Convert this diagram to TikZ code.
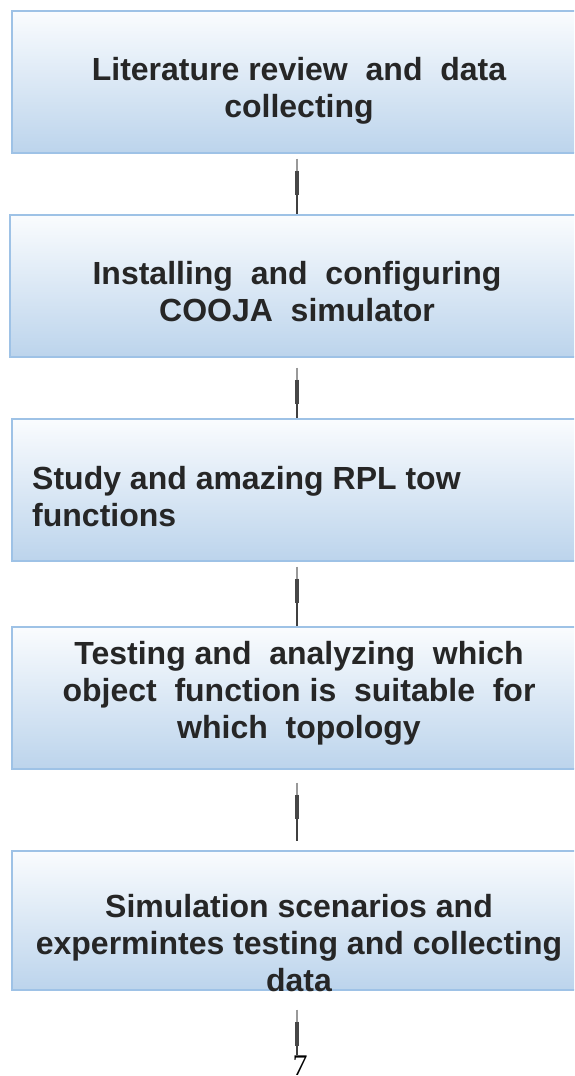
\documentclass[tikz,border=0pt]{standalone}
\usepackage{fontspec}
\setmainfont{Liberation Sans}
\newfontfamily\numfont{Liberation Serif}
\usetikzlibrary{calc}

\definecolor{boxtop}{RGB}{250,252,254}
\definecolor{boxbottom}{RGB}{188,212,236}
\definecolor{boxline}{RGB}{158,194,230}
\definecolor{txt}{RGB}{38,38,38}

\begin{document}
\begin{tikzpicture}[
    x=1pt, y=-1pt,
    stepbox/.style={
      draw=boxline,
      line width=1.5pt,
      top color=boxtop,
      bottom color=boxbottom,
      shape=rectangle,
      anchor=north west,
      minimum width=600pt,
      minimum height=142pt,
      inner sep=0pt,
    },
    steptext/.style={
      text=txt,
      font=\bfseries\fontsize{32}{37}\selectfont,
      align=center,
      inner sep=0pt,
    },
    linkup/.style={line width=1.2pt, black!40},
    linklow/.style={line width=1.2pt, black!75},
    linkbar/.style={line width=3.5pt, black!72},
  ]
  \useasboundingbox (0,0) rectangle (574,1076);
  \clip (0,0) rectangle (574,1076);

  % boxes
  \node[stepbox] (b1) at (11,10) {};
  \node[stepbox] (b2) at (9,214) {};
  \node[stepbox] (b3) at (11,418) {};
  \node[stepbox] (b4) at (11,626) {};
  \node[stepbox, minimum height=139pt] (b5) at (11,850) {};

  % texts
  \node[steptext] (t1) at (299,91) {Literature review\ \ and\ \ data\\collecting};
  \node[steptext] (t2) at (297,292) {Installing\ \ and\ \ configuring\\COOJA\ \ simulator};
  \node[steptext, anchor=west, align=left] (t3) at (32,497) {Study and amazing RPL tow\\functions};
  \node[steptext] (t4) at (299,693) {Testing and\ \ analyzing\ \ which\\object\ \ function is\ \ suitable\ \ for\\which\ \ topology};
  \node[steptext] (t5) at (299,943) {Simulation scenarios and\\expermintes testing and collecting\\data};

  \node[font=\numfont\fontsize{30}{30}\selectfont, anchor=base, inner sep=0pt] (pg) at (300,1075) {7};

  \coordinate (axis) at (297,0);
  \coordinate (end) at (297,1055);

  % connectors
  \foreach \a/\b/\g/\s in {b1/b2/5/0, b2/b3/10/0, b3/b4/5/0, b4/b5/13/9} {
    \draw[linkup] ($(\a.south -| axis)+(0,\g)$) -- ($(\a.south -| axis)+(0,\g+12)$);
    \draw[linklow, shorten >=\s pt] ($(\a.south -| axis)+(0,\g+30)$) -- (\b.north -| axis);
    \draw[linkbar] ($(\a.south -| axis)+(0,\g+12)$) -- ($(\a.south -| axis)+(0,\g+36)$);
  }
  \draw[linkup] ($(b5.south -| axis)+(0,19)$) -- ($(b5.south -| axis)+(0,31)$);
  \draw[linklow] ($(b5.south -| axis)+(0,49)$) -- (end);
  \draw[linkbar] ($(b5.south -| axis)+(0,31)$) -- ($(b5.south -| axis)+(0,55)$);
\end{tikzpicture}
\end{document}
